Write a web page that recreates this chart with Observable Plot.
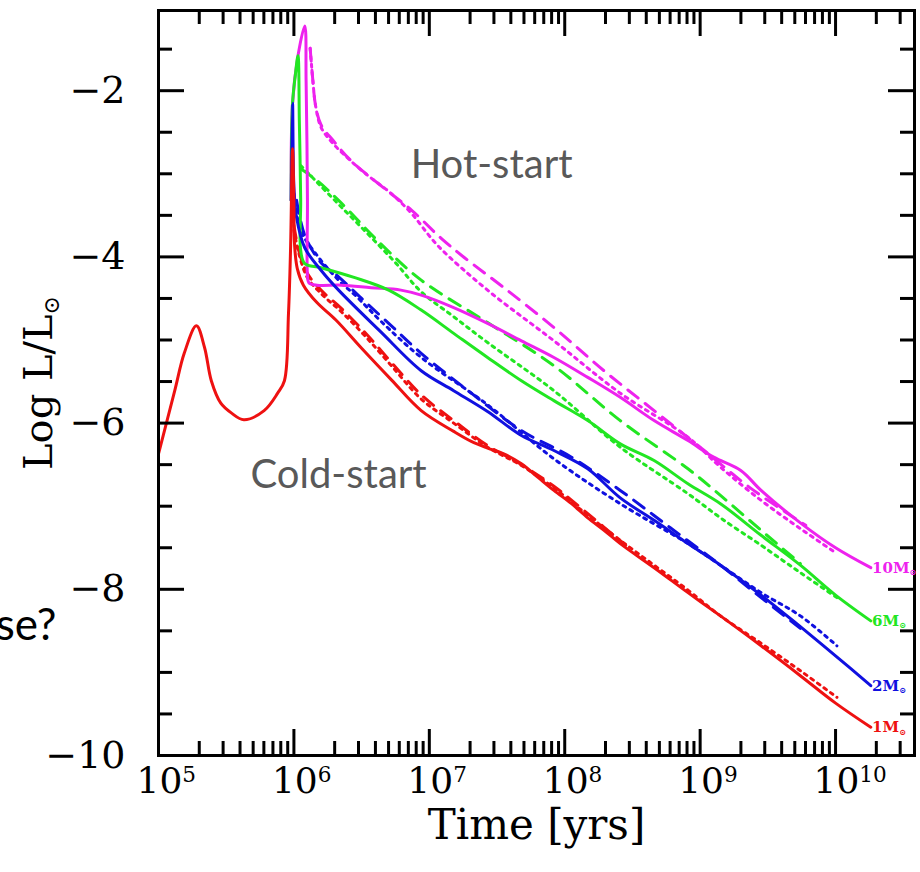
<!DOCTYPE html>
<html><head><meta charset="utf-8">
<script src="https://cdn.jsdelivr.net/npm/d3@7"></script>
<script src="https://cdn.jsdelivr.net/npm/@observablehq/plot@0.6"></script>
<style>body{margin:0;background:#fff}#chart svg{display:block}</style>
</head><body><div id="chart"></div>
<script>
// ---- data: [log10(time / yr), log L/Lsun] ----
const redSolid = [[5.00,-6.37],[5.12,-5.61],[5.19,-5.16],[5.28,-4.83],[5.34,-5.09],[5.39,-5.49],[5.46,-5.76],[5.54,-5.88],[5.63,-5.96],[5.78,-5.85],[5.88,-5.64],[5.93,-5.49],[5.96,-4.68],[5.975,-3.92],[5.99,-2.70],[6.00,-3.32],[6.005,-3.86],[6.025,-4.14],[6.07,-4.34],[6.17,-4.55],[6.31,-4.76],[6.50,-5.10],[6.72,-5.48],[6.94,-5.85],[7.18,-6.10],[7.31,-6.22],[7.43,-6.30],[7.55,-6.37],[7.68,-6.49],[7.80,-6.65],[7.92,-6.81],[8.05,-6.97],[8.17,-7.14],[8.29,-7.29],[8.41,-7.45],[8.66,-7.74],[8.91,-8.04],[9.15,-8.32],[9.45,-8.68],[9.74,-9.04],[10.00,-9.37],[10.26,-9.66]];
const redDashed = [[6.00,-3.62],[6.04,-3.95],[6.10,-4.20],[6.20,-4.40],[6.35,-4.62],[6.53,-4.92],[6.72,-5.27],[6.94,-5.66],[7.18,-5.97],[7.43,-6.27],[7.68,-6.50],[7.92,-6.76],[8.17,-7.09],[8.45,-7.47]];
const redDotted = [[6.00,-3.68],[6.04,-3.98],[6.10,-4.25],[6.20,-4.44],[6.35,-4.66],[6.53,-4.96],[6.72,-5.31],[6.94,-5.71],[7.18,-6.00],[7.43,-6.29],[7.68,-6.51],[7.92,-6.78],[8.17,-7.11],[8.41,-7.41],[8.66,-7.71],[8.91,-8.01],[9.15,-8.32],[9.45,-8.65],[9.74,-8.98],[10.01,-9.30]];

const blueSolid = [[5.98,-3.32],[5.99,-2.15],[6.00,-3.16],[6.02,-3.53],[6.08,-3.89],[6.20,-4.16],[6.33,-4.40],[6.64,-4.90],[6.94,-5.37],[7.18,-5.61],[7.43,-5.86],[7.68,-6.15],[7.92,-6.33],[8.17,-6.55],[8.41,-6.90],[8.66,-7.17],[8.91,-7.45],[9.15,-7.71],[9.45,-8.07],[9.74,-8.45],[10.00,-8.80],[10.26,-9.16]];
const blueDashed = [[6.02,-3.32],[6.08,-3.74],[6.20,-4.07],[6.33,-4.24],[6.50,-4.50],[6.72,-4.83],[6.94,-5.16],[7.31,-5.64],[7.68,-6.09],[8.05,-6.41],[8.41,-6.81],[8.78,-7.26],[9.15,-7.71],[9.45,-8.10],[9.74,-8.47]];
const blueDotted = [[6.00,-3.24],[6.05,-3.68],[6.17,-3.98],[6.33,-4.28],[6.47,-4.49],[6.64,-4.77],[6.94,-5.21],[7.43,-5.78],[7.92,-6.43],[8.41,-6.97],[8.91,-7.45],[9.15,-7.71],[9.45,-8.04],[9.74,-8.32],[10.01,-8.68]];

const greenSolid = [[5.98,-3.32],[5.99,-2.15],[6.01,-1.82],[6.03,-1.58],[6.04,-2.36],[6.05,-3.32],[6.05,-3.92],[6.08,-4.08],[6.20,-4.13],[6.45,-4.25],[6.70,-4.40],[6.94,-4.64],[7.18,-4.92],[7.43,-5.21],[7.68,-5.49],[7.92,-5.73],[8.17,-5.97],[8.41,-6.25],[8.66,-6.45],[8.91,-6.73],[9.15,-6.97],[9.45,-7.35],[9.74,-7.71],[10.00,-8.07],[10.26,-8.38]];
const greenDashed = [[6.05,-2.94],[6.17,-3.08],[6.33,-3.32],[6.64,-3.84],[6.94,-4.28],[7.43,-4.79],[7.92,-5.31],[8.41,-5.97],[8.91,-6.55],[9.15,-6.87],[9.45,-7.29],[9.74,-7.69]];
const greenDotted = [[6.05,-2.90],[6.17,-3.10],[6.35,-3.40],[6.55,-3.73],[6.75,-4.07],[6.94,-4.42],[7.18,-4.72],[7.43,-5.03],[7.92,-5.61],[8.41,-6.29],[8.91,-6.85],[9.15,-7.14],[9.45,-7.47],[9.74,-7.80],[10.01,-8.10]];

const magentaSolid = [[5.98,-3.32],[5.99,-2.15],[6.03,-1.58],[6.08,-1.22],[6.09,-1.88],[6.10,-3.32],[6.10,-4.22],[6.11,-4.31],[6.17,-4.34],[6.35,-4.34],[6.57,-4.37],[6.79,-4.40],[6.94,-4.46],[7.18,-4.61],[7.43,-4.80],[7.68,-5.01],[7.92,-5.21],[8.17,-5.45],[8.41,-5.69],[8.66,-5.97],[8.91,-6.21],[9.10,-6.41],[9.30,-6.57],[9.45,-6.81],[9.74,-7.20],[10.00,-7.50],[10.26,-7.74]];
const magentaDashed = [[6.12,-1.49],[6.14,-1.88],[6.16,-2.18],[6.20,-2.41],[6.29,-2.60],[6.42,-2.84],[6.64,-3.14],[6.87,-3.44],[7.09,-3.78],[7.26,-4.01],[7.55,-4.37],[7.92,-4.85],[8.29,-5.37],[8.66,-5.85],[9.03,-6.33],[9.37,-6.78],[9.78,-7.23]];
const magentaDotted = [[6.12,-1.49],[6.14,-1.88],[6.16,-2.18],[6.20,-2.44],[6.28,-2.62],[6.39,-2.80],[6.53,-3.00],[6.72,-3.24],[6.87,-3.48],[7.06,-3.86],[7.43,-4.40],[7.92,-5.01],[8.41,-5.64],[8.91,-6.17],[9.15,-6.53],[9.45,-6.93],[9.74,-7.27],[10.01,-7.57]];

const massLabels = ["10M⊙", "6M⊙", "2M⊙", "1M⊙"];
const massLabelLogT = [10.27, 10.27, 10.27, 10.27];
const massLabelLogL = [-7.74, -8.38, -9.16, -9.66];
const massColors = ["#ee22ee", "#22e622", "#1010e0", "#ee1111"];

const xMajor = [1e5, 1e6, 1e7, 1e8, 1e9, 1e10];
const xTickLabels = ["10^5", "10^6", "10^7", "10^8", "10^9", "10^10"];
const xMantissas = [2, 3, 4, 5, 6, 7, 8, 9];
const yMajor = [-2, -4, -6, -8, -10];
const yTickLabels = ["−2", "−4", "−6", "−8", "−10"];
const yMinor = [-1.5, -2.5, -3, -3.5, -4.5, -5, -5.5, -6.5, -7, -7.5, -8.5, -9, -9.5];

const annotations = [
  {lt: 7.46, L: -2.90, text: "Hot-start"},
  {lt: 6.33, L: -6.63, text: "Cold-start"}
];

// ---- layout ----
const W = 920, H = 872, mL = 158, mR = 6, mT = 10, mB = 117;
const plotW = W - mL - mR, plotH = H - mT - mB;
const majorLen = 26, minorLen = 14;

const xMinor = [];
xMajor.forEach(d => xMantissas.forEach(m => { if (d * m < 3.8e10) xMinor.push(d * m); }));

const curves = [
  {pts: magentaDotted, color: massColors[0], dash: "3,5"},
  {pts: magentaDashed, color: massColors[0], dash: "13,9"},
  {pts: greenDotted, color: massColors[1], dash: "3,5"},
  {pts: greenDashed, color: massColors[1], dash: "13,9"},
  {pts: blueDotted, color: massColors[2], dash: "3,5"},
  {pts: blueDashed, color: massColors[2], dash: "13,9"},
  {pts: redDotted, color: massColors[3], dash: "3,5"},
  {pts: redDashed, color: massColors[3], dash: "13,9"},
  {pts: magentaSolid, color: massColors[0], dash: null},
  {pts: greenSolid, color: massColors[1], dash: null},
  {pts: blueSolid, color: massColors[2], dash: null},
  {pts: redSolid, color: massColors[3], dash: null}
];

const serif = "DejaVu Serif";
const tickStyle = {stroke: "black", strokeWidth: 3};

const marks = [
  ...curves.map(c => Plot.line(c.pts, {
    x: d => 10 ** d[0], y: d => d[1],
    stroke: c.color, strokeWidth: 3, strokeDasharray: c.dash,
    curve: "catmull-rom", strokeLinejoin: "round"
  })),
  // inward ticks on all four sides
  Plot.ruleX(xMajor, {x: d => d, insetTop: plotH - majorLen, ...tickStyle}),
  Plot.ruleX(xMinor, {x: d => d, insetTop: plotH - minorLen, ...tickStyle}),
  Plot.ruleX(xMajor, {x: d => d, insetBottom: plotH - majorLen, ...tickStyle}),
  Plot.ruleX(xMinor, {x: d => d, insetBottom: plotH - minorLen, ...tickStyle}),
  Plot.ruleY(yMajor, {y: d => d, insetRight: plotW - majorLen, ...tickStyle}),
  Plot.ruleY(yMinor, {y: d => d, insetRight: plotW - minorLen, ...tickStyle}),
  Plot.ruleY(yMajor, {y: d => d, insetLeft: plotW - majorLen, ...tickStyle}),
  Plot.ruleY(yMinor, {y: d => d, insetLeft: plotW - minorLen, ...tickStyle}),
  Plot.frame({stroke: "black", strokeWidth: 3}),
  // x tick labels ("10" centred on the tick, exponent to its right)
  Plot.text(xMajor, {x: d => d, text: (d, i) => xTickLabels[i], frameAnchor: "bottom",
    textAnchor: "start", lineAnchor: "middle", dx: -22, dy: 26, fontSize: 36, fontFamily: serif, fill: "black"}),
  Plot.axisY({ticks: yMajor, tickFormat: (d, i) => yTickLabels[i], tickSize: 0, tickPadding: 33,
    fontSize: 38, fontFamily: serif, fill: "black", label: null}),
  Plot.text(["Time [yrs]"], {text: d => d, frameAnchor: "bottom", textAnchor: "middle", lineAnchor: "middle",
    dy: 70, fontSize: 42, fontFamily: serif, fill: "black"}),
  Plot.text(["Log L/L⊙"], {text: d => d, frameAnchor: "left", textAnchor: "middle", lineAnchor: "middle",
    dx: -119, rotate: -90, fontSize: 40, fontFamily: serif, fill: "black"}),
  Plot.text(annotations, {x: d => 10 ** d.lt, y: d => d.L, text: d => d.text,
    fontSize: 40, fontFamily: "Lato", fill: "#595959"}),
  Plot.text(massLabels, {x: (d, i) => 10 ** massLabelLogT[i], y: (d, i) => massLabelLogL[i],
    text: d => d, fill: (d, i) => massColors[i], textAnchor: "start", dx: 0,
    fontSize: 15, fontWeight: "bold", fontFamily: serif}),
  Plot.text(["se?"], {text: d => d, x: 1e5, y: -8.44, textAnchor: "end", dx: -102,
    fontSize: 44, fontFamily: "Lato", fill: "black"})
];

const chart = Plot.plot({
  width: W, height: H,
  marginLeft: mL, marginRight: mR, marginTop: mT, marginBottom: mB,
  x: {type: "log", domain: [1e5, 10 ** 10.583], axis: null},
  y: {domain: [-10, -1.035]},
  style: {background: "white", fontFamily: serif},
  marks
});

// superscripts / subscripts
d3.select(chart).selectAll("text").each(function () {
  const s = this.textContent;
  if (s.includes("^")) {
    const [a, b] = s.split("^");
    this.textContent = a;
    d3.select(this).append("tspan").attr("dy", "-0.5em").attr("font-size", "0.6em").text(b);
  } else if (s.includes("⊙")) {
    const [a, b] = s.split("⊙");
    this.textContent = a;
    d3.select(this).append("tspan").attr("dy", "0.3em").attr("font-size", "0.55em").text("⊙");
    if (b) d3.select(this).append("tspan").attr("dy", "-0.3em").text(b);
  }
});

document.getElementById("chart").append(chart);
</script>
</body></html>
